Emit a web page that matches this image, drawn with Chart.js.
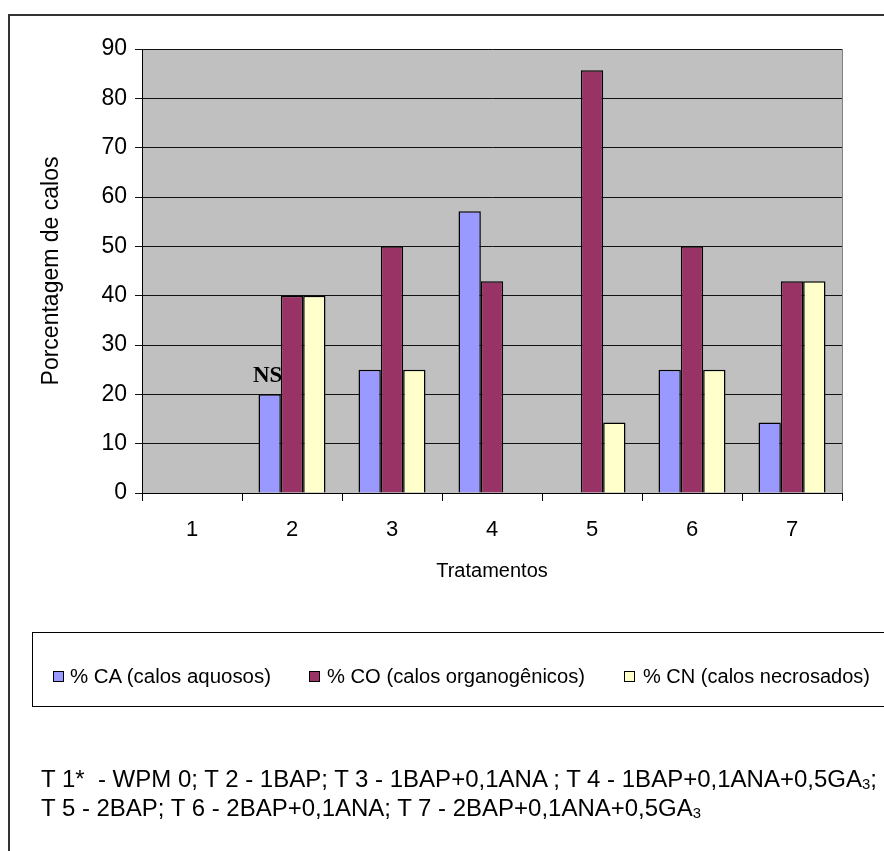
<!DOCTYPE html>
<html>
<head>
<meta charset="utf-8">
<script src="https://cdn.jsdelivr.net/npm/chart.js@4.4.1/dist/chart.umd.min.js"></script>
<style>
  html, body { margin: 0; padding: 0; background: #fff; }
  #wrap { position: relative; width: 884px; height: 851px; overflow: hidden; font-family: 'Liberation Sans', Arial, sans-serif; }
  #c { position: absolute; left: 0; top: 0; }
  .frame { position: absolute; left: 8px; top: 14px; width: 900px; height: 900px; border-left: 2px solid #333; border-top: 2px solid #333; box-sizing: border-box; }
  .legendbox { position: absolute; left: 32px; top: 632px; width: 900px; height: 75px; border: 1px solid #000; box-sizing: border-box; }
  .sw { position: absolute; width: 11px; height: 11px; border: 1.5px solid #000; box-sizing: border-box; top: 671px; }
  .fit { position: absolute; white-space: pre; line-height: 1; color: #000; transform-origin: 0 50%; display: inline-block; }
  sub { font-size: 0.62em; vertical-align: -0.15em; line-height: 0; }
</style>
</head>
<body>
<div id="wrap">
  <canvas id="c" width="884" height="851"></canvas>
  <div class="frame"></div>
  <div class="legendbox"></div>
  <div id="legend"></div>
  <div id="foot"></div>
</div>
<script>
// ---- data ----
const categories = ['1', '2', '3', '4', '5', '6', '7'];
const seriesNames = ['% CA (calos aquosos)', '% CO (calos organogênicos)', '% CN (calos necrosados)'];
const caValues = [0, 20, 25, 57.1, 0, 25, 14.3];
const coValues = [0, 40, 50, 42.9, 85.7, 50, 42.9];
const cnValues = [0, 40, 25, 0, 14.3, 25, 42.9];
const seriesColors = ['#9999FF', '#993366', '#FFFFCC'];
const yTicks = [0, 10, 20, 30, 40, 50, 60, 70, 80, 90];
const xTitle = 'Tratamentos';
const yTitle = 'Porcentagem de calos';
const annotationText = 'NS';
const annotationCategory = 1; // treatment 2, series CA
const footnoteLines = [
  'T 1*  - WPM 0; T 2 - 1BAP; T 3 - 1BAP+0,1ANA ; T 4 - 1BAP+0,1ANA+0,5GA<sub>3</sub>;',
  'T 5 - 2BAP; T 6 - 2BAP+0,1ANA; T 7 - 2BAP+0,1ANA+0,5GA<sub>3</sub>'
];

const FONT = "'Liberation Sans', Arial, sans-serif";

const plotBg = {
  id: 'plotBg',
  beforeDraw(chart) {
    const {ctx, chartArea: a} = chart;
    ctx.save();
    ctx.fillStyle = '#C0C0C0';
    ctx.fillRect(a.left, a.top, a.right - a.left, a.bottom - a.top);
    ctx.restore();
  },
  afterDraw(chart) {
    const {ctx, chartArea: a} = chart;
    ctx.save();
    ctx.strokeStyle = '#808080';
    ctx.lineWidth = 1;
    ctx.beginPath();
    ctx.moveTo(Math.round(a.right) + 0.5, a.top);
    ctx.lineTo(Math.round(a.right) + 0.5, a.bottom);
    ctx.stroke();
    ctx.restore();
  },
  afterDatasetsDraw(chart) {
    const meta = chart.getDatasetMeta(0);
    const el = meta.data[annotationCategory];
    if (!el) return;
    const ctx = chart.ctx;
    ctx.save();
    ctx.font = "bold 23px 'Liberation Serif', 'Times New Roman', serif";
    ctx.fillStyle = '#000';
    ctx.textAlign = 'center';
    ctx.textBaseline = 'alphabetic';
    ctx.fillText(annotationText, el.x - 2, el.y - 12);
    ctx.restore();
  }
};

new Chart(document.getElementById('c'), {
  type: 'bar',
  data: {
    labels: categories,
    datasets: [caValues, coValues, cnValues].map((d, i) => ({
      label: seriesNames[i],
      data: d,
      backgroundColor: seriesColors[i],
      borderColor: '#000',
      borderWidth: 1.5,
      barPercentage: 1,
      categoryPercentage: 0.67
    }))
  },
  options: {
    responsive: false,
    animation: false,
    events: [],
    layout: { padding: { left: 0, top: 49, right: 42, bottom: 258 } },
    plugins: { legend: { display: false }, tooltip: { enabled: false } },
    scales: {
      x: {
        grid: { display: true, drawOnChartArea: false, drawTicks: true, tickLength: 8, color: '#000', offset: true },
        border: { display: true, color: '#000', width: 1 },
        ticks: { color: '#000', font: { family: FONT, size: 22 }, padding: 16, maxRotation: 0 },
        title: { display: true, text: xTitle, color: '#000', font: { family: FONT, size: 20 }, padding: { top: 0, bottom: 10 } },
        afterFit(s) { s.height = 100; }
      },
      y: {
        min: 0, max: 90,
        afterBuildTicks(s) { s.ticks = yTicks.map(v => ({ value: v })); },
        grid: { color: '#111', lineWidth: 1, drawTicks: true, tickLength: 7 },
        border: { display: true, color: '#000', width: 1 },
        ticks: { color: '#000', font: { family: FONT, size: 23 }, padding: 8 },
        title: { display: true, text: yTitle, color: '#000', font: { family: FONT, size: 23 }, padding: { top: 38, bottom: 0 } },
        afterFit(s) { s.width = 142; }
      }
    }
  },
  plugins: [plotBg]
});

// ---- legend & footnote (HTML text) ----
const legendPos = [
  { sw: 53, tx: 70, w: 201 },
  { sw: 309, tx: 327, w: 258 },
  { sw: 624, tx: 643, w: 227 }
];
const legendEl = document.getElementById('legend');
const fits = [];
seriesNames.forEach((name, i) => {
  const sw = document.createElement('div');
  sw.className = 'sw';
  sw.style.left = legendPos[i].sw + 'px';
  sw.style.background = seriesColors[i];
  legendEl.appendChild(sw);
  const t = document.createElement('span');
  t.className = 'fit';
  t.style.fontSize = '20px';
  t.style.left = legendPos[i].tx + 'px';
  t.style.top = (683 - 17) + 'px';
  t.textContent = name;
  legendEl.appendChild(t);
  fits.push([t, legendPos[i].w]);
});
const footEl = document.getElementById('foot');
const footPos = [{ top: 787 - 19.5, w: 836 }, { top: 816 - 19.5, w: 660 }];
footnoteLines.forEach((ln, i) => {
  const t = document.createElement('span');
  t.className = 'fit';
  t.style.fontSize = '23px';
  t.style.left = '41px';
  t.style.top = footPos[i].top + 'px';
  t.innerHTML = ln;
  footEl.appendChild(t);
  fits.push([t, footPos[i].w]);
});
function applyFit() {
  fits.forEach(([el, w]) => {
    el.style.transform = 'none';
    const cw = el.getBoundingClientRect().width;
    if (cw > 0) el.style.transform = 'scaleX(' + (w / cw) + ')';
  });
}
applyFit();
if (document.fonts && document.fonts.ready) document.fonts.ready.then(applyFit);
</script>
</body>
</html>
